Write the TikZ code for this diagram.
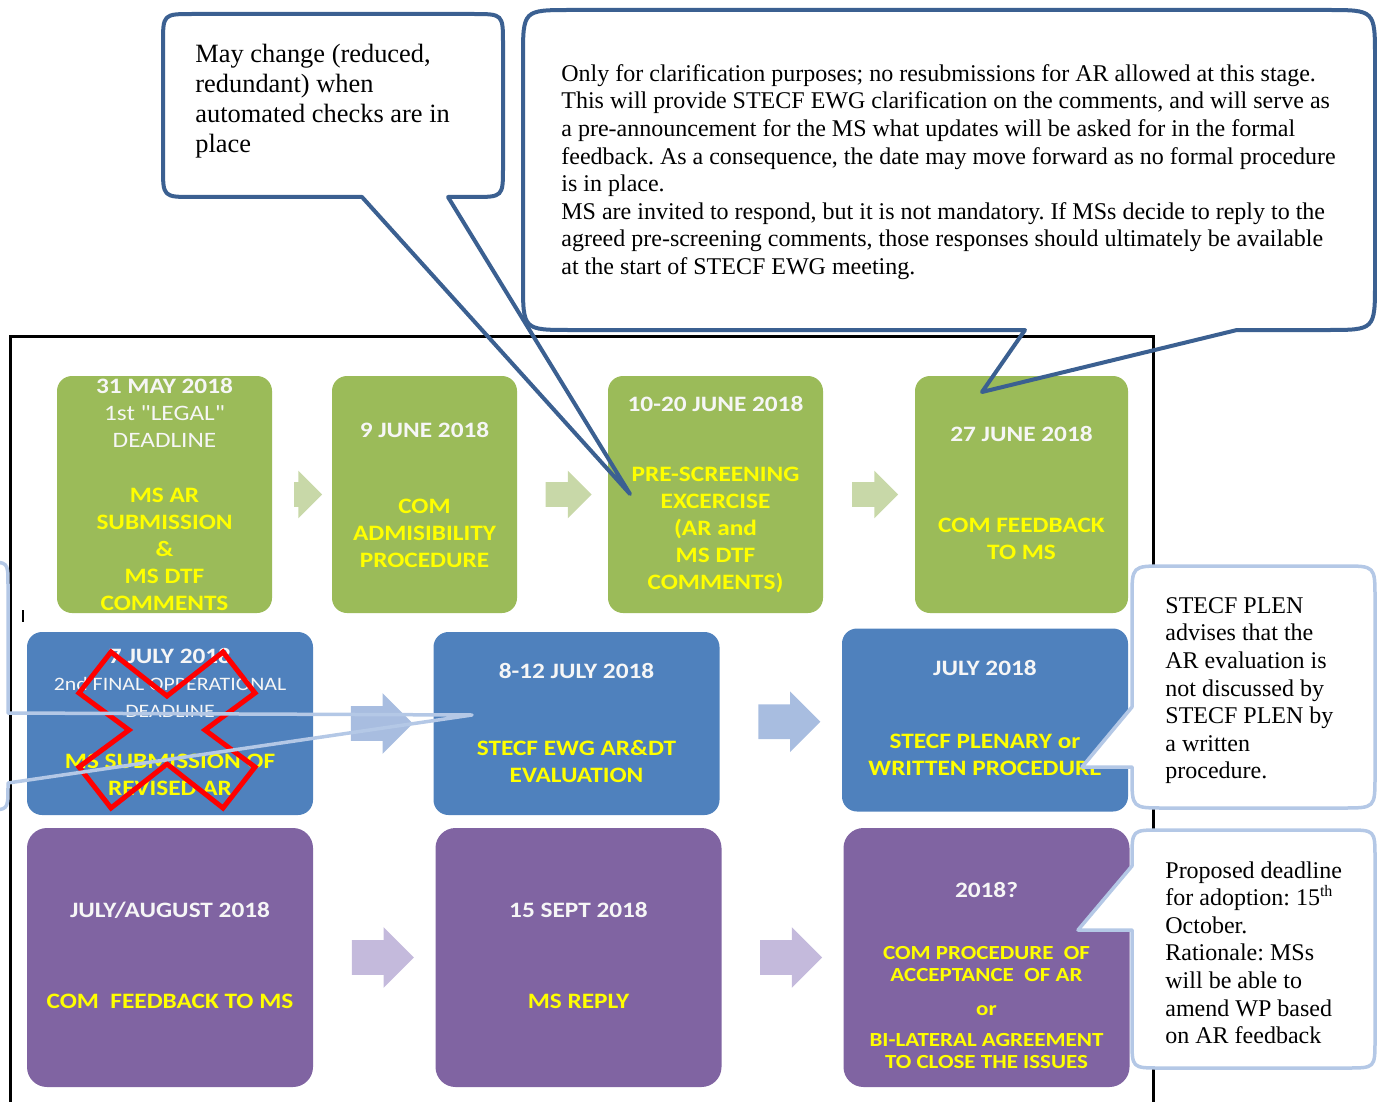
\documentclass[tikz,border=0pt]{standalone}
\usepackage{fontspec}
\setmainfont{Liberation Serif}
\newfontfamily\boxfont{Carlito}[FakeStretch=1.15]
\usepackage{tikz}
\usetikzlibrary{calc,shapes.arrows}
\frenchspacing
\definecolor{boxgreen}{RGB}{155,187,89}
\definecolor{boxblue}{RGB}{79,129,189}
\definecolor{boxpurple}{RGB}{128,100,162}
\definecolor{arrowgreen}{RGB}{200,216,168}
\definecolor{arrowblue}{RGB}{168,189,224}
\definecolor{arrowpurple}{RGB}{196,186,220}
\definecolor{datewhite}{RGB}{246,246,246}
\definecolor{stepyellow}{RGB}{255,255,0}
\definecolor{calloutdark}{RGB}{59,96,145}
\definecolor{calloutlight}{RGB}{180,200,230}
\tikzset{stepbox/.style={rounded corners=7.5pt,inner sep=0pt}}
\tikzset{greenbox/.style={stepbox,fill=boxgreen,minimum height=118.5pt}}
\tikzset{bluebox/.style={stepbox,fill=boxblue,minimum width=143pt,minimum height=91.5pt}}
\tikzset{purplebox/.style={stepbox,fill=boxpurple,rounded corners=10pt,minimum width=143pt,minimum height=129.5pt}}
\tikzset{datetext/.style={text=datewhite,align=center,inner sep=0pt,font=\boxfont\fontsize{11}{13.5}\selectfont\bfseries}}
\tikzset{steptext/.style={text=stepyellow,align=center,inner sep=0pt,font=\boxfont\fontsize{11}{13.5}\selectfont\bfseries}}
\tikzset{blockarrow/.style={single arrow,inner xsep=0pt,shape border rotate=0}}
\tikzset{garrow/.style={blockarrow,fill=arrowgreen,inner ysep=6pt,single arrow head extend=5.75pt}}
\tikzset{barrow/.style={blockarrow,fill=arrowblue,inner ysep=8.5pt,single arrow head extend=6.5pt,minimum height=31pt}}
\tikzset{parrow/.style={blockarrow,fill=arrowpurple,inner ysep=8.5pt,single arrow head extend=6.5pt,minimum height=31pt}}
\tikzset{darkcallout/.style={draw=calloutdark,line width=2pt,line join=round}}
\tikzset{lightcallout/.style={draw=calloutlight,line width=1.75pt,line join=round}}
\tikzset{notetext/.style={align=left,inner sep=0pt,anchor=north west,font=\fontsize{12}{13.8}\selectfont}}
\tikzset{crossmark/.style={draw=red,line width=2.5pt,line join=miter}}

\begin{document}
\begin{tikzpicture}[x=0.5pt,y=-0.5pt]
  \useasboundingbox (0,0) rectangle (1377,1102);

  \coordinate (tipcheck) at (630,494);
  \coordinate (tipscreen) at (982,392);
  \coordinate (tipleft) at (472,715);
  \coordinate (tipplen) at (1082,767);
  \coordinate (tipadopt) at (1078,930);

  \def\checkpath{(tipcheck) -- (448,197) -- (473,197) .. controls (503,197) .. (503,167) -- (503,44) .. controls (503,14) .. (473,14) -- (193,14) .. controls (163,14) .. (163,44) -- (163,167) .. controls (163,197) .. (193,197) -- (362,197) -- cycle}
  \def\screenpath{(tipscreen) -- (1237,330) -- (1327,330) .. controls (1375,330) .. (1375,282) -- (1375,58) .. controls (1375,10) .. (1327,10) -- (571,10) .. controls (523,10) .. (523,58) -- (523,282) .. controls (523,330) .. (571,330) -- (1025,330) -- cycle}
  \def\plenpath{(tipplen) -- (1132,707) -- (1132,598) .. controls (1132,566) .. (1164,566) -- (1343,566) .. controls (1375,566) .. (1375,598) -- (1375,776) .. controls (1375,808) .. (1343,808) -- (1164,808) .. controls (1132,808) .. (1132,776) -- (1132,767) -- cycle}
  \def\adoptpath{(tipadopt) -- (1132,866) -- (1132,858) .. controls (1132,830) .. (1160,830) -- (1347,830) .. controls (1375,830) .. (1375,858) -- (1375,1040) .. controls (1375,1068) .. (1347,1068) -- (1160,1068) .. controls (1132,1068) .. (1132,1040) -- (1132,930) -- cycle}

  \fill[white] \screenpath;
  \draw[line width=1.5pt] (10,1110) -- (10,336) -- (1153,336) -- (1153,1110);
  \draw[line width=1pt] (23,610) -- (23,622);

  \node[greenbox,minimum width=107.5pt] (g1) at (164.5,494.5) {};
  \node[greenbox,minimum width=92.5pt] (g2) at (424.5,494.5) {};
  \node[greenbox,minimum width=107.5pt] (g3) at (715.5,494.5) {};
  \node[greenbox,minimum width=106.5pt] (g4) at (1021.5,494.5) {};
  \node[bluebox] (b1) at (170,723.5) {};
  \node[bluebox] (b2) at (576.5,723.5) {};
  \node[bluebox] (b3) at (985,720) {};
  \node[purplebox] (p1) at (170,957.5) {};
  \node[purplebox] (p2) at (578.5,957.5) {};
  \node[purplebox] (p3) at (986.5,957.5) {};

  \node[garrow,minimum height=14pt] (g12) at ($(g1.east)!0.5!(g2.west)$) {};
  \node[garrow,minimum height=23pt] (g23) at ($(g2.east)!0.5!(g3.west)$) {};
  \node[garrow,minimum height=23pt] (g34) at ($(g3.east)!0.5!(g4.west)$) {};
  \node[barrow] (b12) at ($(b1.east)!0.5!(b2.west)$) {};
  \node[barrow] (b23) at ($(b2.east)!0.5!(b3.west)$) {};
  \node[parrow] (p12) at ($(p1.east)!0.5!(p2.west)$) {};
  \node[parrow] (p23) at ($(p2.east)!0.5!(p3.west)$) {};

  \node[datetext] (g1date) at (164.5,413) {31 MAY 2018\\{\mdseries 1st "LEGAL"}\\{\mdseries DEADLINE}};
  \node[steptext] (g1text) at (164.5,549) {MS AR\\SUBMISSION\\\&\\MS DTF\\COMMENTS};
  \node[datetext] (g2date) at (424.5,430) {9 JUNE 2018};
  \node[steptext] (g2text) at (424.5,533) {COM\\ADMISIBILITY\\PROCEDURE};
  \node[datetext] (g3date) at (715.5,404) {10-20 JUNE 2018};
  \node[steptext] (g3text) at (715.5,530) {PRE-SCREENING\\EXCERCISE\\(AR and\\MS DTF\\COMMENTS)};
  \node[datetext] (g4date) at (1021.5,434) {27 JUNE 2018};
  \node[steptext] (g4text) at (1021.5,539) {COM FEEDBACK\\TO MS};
  \node[datetext] (b1date) at (170,683) {7 JULY 2018\\{\mdseries\fontsize{9.5}{11}\selectfont 2nd FINAL OPPERATIONAL}\\{\mdseries\fontsize{9.5}{11}\selectfont DEADLINE}};
  \node[steptext] (b1text) at (170,775) {MS SUBMISSION OF\\REVISED AR};
  \node[datetext] (b2date) at (576.5,671) {8-12 JULY 2018};
  \node[steptext] (b2text) at (576.5,761.5) {STECF EWG AR\&DT\\EVALUATION};
  \node[datetext] (b3date) at (985,668) {JULY 2018};
  \node[steptext] (b3text) at (985,754.5) {STECF PLENARY or\\WRITTEN PROCEDURE};
  \node[datetext] (p1date) at (170,910) {JULY/AUGUST 2018};
  \node[steptext] (p1text) at (170,1001) {COM\ \ FEEDBACK TO MS};
  \node[datetext] (p2date) at (578.5,910) {15 SEPT 2018};
  \node[steptext] (p2text) at (578.5,1001) {MS REPLY};
  \node[datetext] (p3date) at (986.5,890) {2018?};
  \node[steptext,font=\boxfont\fontsize{10}{11}\selectfont\bfseries] (p3text) at (986.5,1007.5)
    {COM PROCEDURE\ \ OF\\ACCEPTANCE\ \ OF AR\\[6pt]or\\[4.5pt]BI-LATERAL AGREEMENT\\TO CLOSE THE ISSUES};

  \draw[crossmark,shift={(167,730)}] (-88,-37) -- (-56,-78) -- (0,-34) -- (56,-78) -- (88,-37) -- (38,0)
    -- (88,37) -- (56,78) -- (0,34) -- (-56,78) -- (-88,37) -- (-38,0) -- cycle;

  \draw[darkcallout] \checkpath;
  \draw[darkcallout] \screenpath;
  \draw[lightcallout] (-30,562) -- (-14,562) .. controls (8,562) .. (8,584) -- (8,713) -- (tipleft)
    -- (8,783) -- (8,788) .. controls (8,810) .. (-14,810) -- (-30,810);
  \draw[lightcallout,fill=white] \plenpath;
  \draw[lightcallout,fill=white] \adoptpath;

  \node[notetext,font=\fontsize{13.2}{15}\selectfont] (checknote) at (195,44)
    {May change (reduced,\\redundant) when\\automated checks are in\\place};
  \node[notetext] (screennote) at (561,64)
    {Only for clarification purposes; no resubmissions for AR allowed at this stage.\\
     This will provide STECF EWG clarification on the comments, and will serve as\\
     a pre-announcement for the MS what updates will be asked for in the formal\\
     feedback. As a consequence, the date may move forward as no formal procedure\\
     is in place.\\
     MS are invited to respond, but it is not mandatory. If MSs decide to reply to the\\
     agreed pre-screening comments, those responses should ultimately be available\\
     at the start of STECF EWG meeting.};
  \node[notetext] (plennote) at (1165,597)
    {STECF PLEN\\advises that the\\AR evaluation is\\not discussed by\\STECF PLEN by\\a written\\procedure.};
  \node[notetext] (adoptnote) at (1165,861)
    {Proposed deadline\\for adoption: 15\textsuperscript{th}\\October.\\Rationale: MSs\\will be able to\\amend WP based\\on AR feedback};
\end{tikzpicture}
\end{document}
